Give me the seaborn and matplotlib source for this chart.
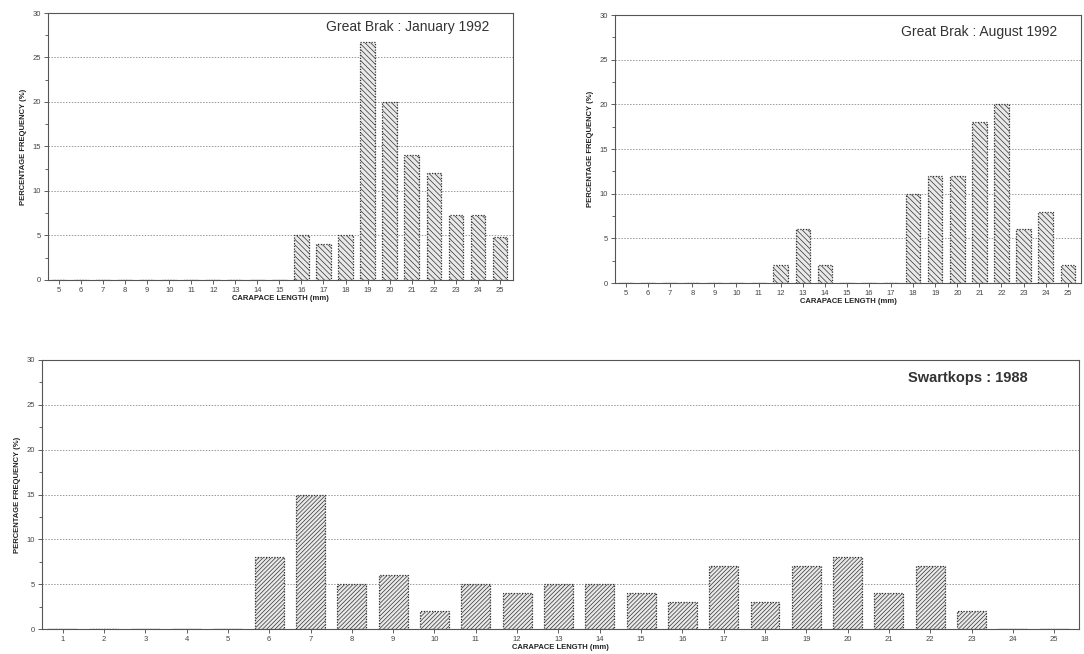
import matplotlib
matplotlib.use("Agg")
import matplotlib.pyplot as plt
import seaborn as sns
import pandas as pd

sns.set_theme(style="white")
plt.rcParams["font.family"] = ["Liberation Sans", "DejaVu Sans"]
plt.rcParams["hatch.color"] = "#9a9a9a"
plt.rcParams["hatch.linewidth"] = 0.5

# Carapace length classes (mm)
jan_lengths = list(range(5, 26))
jan_freq = [0, 0, 0, 0, 0, 0, 0, 0, 0, 0, 0, 5, 4, 5, 26.7, 20, 14, 12, 7.3, 7.3, 4.8]

aug_lengths = list(range(5, 26))
aug_freq = [0, 0, 0, 0, 0, 0, 0, 2, 6, 2, 0, 0, 0, 10, 12, 12, 18, 20, 6, 8, 2]

swk_lengths = list(range(1, 26))
swk_freq = [0, 0, 0, 0, 0, 8, 15, 5, 6, 2, 5, 4, 5, 5, 4, 3, 7, 3, 7, 8, 4, 7, 2, 0, 0]

y_ticks = [0, 5, 10, 15, 20, 25, 30]


def draw_panel(ax, lengths, freq, title, hatch, title_y, bold_title=False,
               width=0.65):
    df = pd.DataFrame({"length": [str(v) for v in lengths], "freq": freq})
    sns.barplot(data=df, x="length", y="freq", order=df["length"], ax=ax,
                color="#e9e9e9", width=width, saturation=1,
                edgecolor="#333333", linewidth=0.9, linestyle=(0, (1, 1.2)))
    for p in ax.patches:
        p.set_hatch(hatch)
    ax.set_xlim(-0.5, len(lengths) - 0.4)
    ax.set_ylim(0, 30)
    ax.set_yticks(y_ticks)
    ax.set_yticks([2.5, 7.5, 12.5, 17.5, 22.5, 27.5], minor=True)
    ax.yaxis.grid(True, color="#9a9a9a", linestyle=(0, (1.5, 1.5)), linewidth=0.7)
    ax.set_axisbelow(True)
    ax.tick_params(axis="both", which="major", labelsize=5.5, colors="#444444",
                   length=3, width=0.6, pad=2)
    ax.tick_params(axis="y", which="minor", length=2, width=0.5, left=True)
    ax.tick_params(axis="x", bottom=True)
    ax.tick_params(axis="y", left=True)
    for s in ax.spines.values():
        s.set_color("#555555")
        s.set_linewidth(0.8)
    ax.set_xlabel("CARAPACE LENGTH (mm)", fontsize=5.5, fontweight="bold",
                  labelpad=1, color="#222222")
    ax.set_ylabel("PERCENTAGE FREQUENCY (%)", fontsize=5.5, fontweight="bold",
                  labelpad=4, color="#222222")
    ax.text(0.95, title_y, title, transform=ax.transAxes, ha="right",
            va="center", fontsize=10 if not bold_title else 10.5,
            fontweight="bold" if bold_title else "normal", color="#333333")


fig = plt.figure(figsize=(10.84, 6.54), dpi=100)
ax1 = fig.add_axes([48 / 1084, 1 - 280 / 654, 465 / 1084, 267 / 654])
ax2 = fig.add_axes([615 / 1084, 1 - 283 / 654, 466 / 1084, 268 / 654])
ax3 = fig.add_axes([42 / 1084, 1 - 629 / 654, 1037 / 1084, 269 / 654])

draw_panel(ax1, jan_lengths, jan_freq, "Great Brak : January 1992",
           "\\\\\\\\\\\\", 0.948)
draw_panel(ax2, aug_lengths, aug_freq, "Great Brak : August 1992",
           "\\\\\\\\\\\\", 0.937)
draw_panel(ax3, swk_lengths, swk_freq, "Swartkops : 1988", "////////", 0.933,
           bold_title=True, width=0.7)

fig.savefig("out.png", dpi=100, facecolor="white")
